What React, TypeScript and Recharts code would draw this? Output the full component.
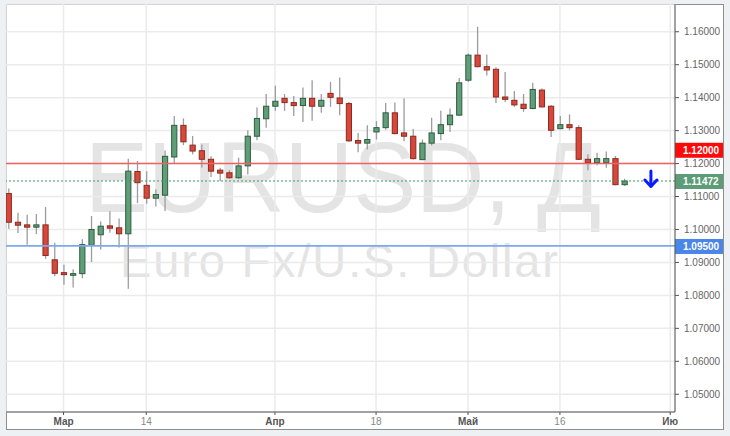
// @ts-nocheck

import React from "react";
import {
  ComposedChart,
  Bar,
  XAxis,
  YAxis,
  CartesianGrid,
  ReferenceLine,
  ReferenceDot,
} from "recharts";

// EURUSD daily candles, Feb 22 .. May 25 (trading days only)
const opens = [
  1.1109, 1.1022, 1.1014, 1.1007, 1.1014, 1.0908, 1.0869, 1.0861, 1.0866, 1.0952,
  1.0984, 1.1011, 1.1005, 1.0987, 1.1176, 1.1134, 1.1095, 1.1104, 1.122, 1.1316,
  1.1256, 1.1239, 1.1213, 1.118, 1.1172, 1.1157, 1.1193, 1.1283, 1.1336, 1.1374,
  1.1398, 1.1385, 1.1376, 1.1398, 1.1374, 1.1413, 1.1399, 1.1382, 1.127, 1.1262,
  1.1296, 1.1309, 1.1354, 1.1293, 1.1283, 1.1212, 1.1262, 1.1291, 1.1318, 1.1347,
  1.1453, 1.1529, 1.1494, 1.1486, 1.1402, 1.1392, 1.138, 1.1367, 1.1423, 1.1374,
  1.1306, 1.1318, 1.1309, 1.1213, 1.1203, 1.1203, 1.1215, 1.1136,
];
const highs = [
  1.1124, 1.1051, 1.1045, 1.1047, 1.1068, 1.096, 1.0893, 1.0879, 1.097, 1.1041,
  1.1024, 1.1055, 1.1033, 1.1215, 1.1208, 1.1177, 1.1122, 1.124, 1.1344, 1.1337,
  1.1284, 1.1258, 1.1222, 1.1187, 1.118, 1.1218, 1.1301, 1.137, 1.1411, 1.1436,
  1.1411, 1.1405, 1.1431, 1.1453, 1.1411, 1.1448, 1.1461, 1.1387, 1.1293, 1.1316,
  1.1329, 1.1384, 1.1385, 1.1398, 1.1305, 1.1273, 1.1339, 1.136, 1.1367, 1.146,
  1.1534, 1.1615, 1.1531, 1.1492, 1.1478, 1.142, 1.1411, 1.1445, 1.1428, 1.1377,
  1.1344, 1.1349, 1.1316, 1.1228, 1.1233, 1.1237, 1.1223, 1.1154,
];
const lows = [
  1.1002, 1.0989, 1.0954, 1.0986, 1.0911, 1.0858, 1.0832, 1.0824, 1.0852, 1.0901,
  1.0939, 1.099, 1.0945, 1.082, 1.108, 1.1078, 1.107, 1.1056, 1.1202, 1.1256,
  1.1228, 1.1188, 1.1159, 1.1147, 1.1154, 1.1153, 1.1167, 1.1271, 1.1309, 1.136,
  1.136, 1.1344, 1.1326, 1.133, 1.1354, 1.1372, 1.1347, 1.1266, 1.1234, 1.1243,
  1.1273, 1.1303, 1.1288, 1.1268, 1.1212, 1.121, 1.1255, 1.1271, 1.1296, 1.1345,
  1.1448, 1.1492, 1.1467, 1.1384, 1.1387, 1.1372, 1.1357, 1.1365, 1.137, 1.1281,
  1.1304, 1.1301, 1.1211, 1.118, 1.1195, 1.1187, 1.1134, 1.1132,
];
const closes = [
  1.1022, 1.1013, 1.1007, 1.1014, 1.0921, 1.0867, 1.0863, 1.0866, 1.0954, 1.1,
  1.101, 1.1004, 1.0987, 1.1177, 1.1142, 1.1095, 1.1106, 1.1222, 1.1316, 1.1266,
  1.1238, 1.1213, 1.1177, 1.1171, 1.1157, 1.1193, 1.1283, 1.1337, 1.1374, 1.1389,
  1.1385, 1.1376, 1.1398, 1.1374, 1.1392, 1.1401, 1.1382, 1.1269, 1.1262, 1.1273,
  1.1309, 1.1354, 1.1291, 1.1283, 1.1215, 1.1262, 1.1293, 1.1318, 1.1347, 1.1445,
  1.1529, 1.1494, 1.1484, 1.1402, 1.1395, 1.1378, 1.1367, 1.1425, 1.1372, 1.1301,
  1.1318, 1.1309, 1.1213, 1.1203, 1.1215, 1.1215, 1.1136, 1.1147,
];

const xTicks = [6, 15, 29, 40, 50, 60, 72];
const xLabels = ["Мар", "14", "Апр", "18", "Май", "16", "Ию"];
const monthLabels = ["Мар", "Апр", "Май", "Ию"];
const yTicks = [1.05, 1.06, 1.07, 1.08, 1.09, 1.1, 1.11, 1.12, 1.13, 1.14, 1.15, 1.16];

const resistance = 1.12;
const support = 1.095;
const lastPrice = 1.11472;

const data = opens.map((o, i) => ({
  i,
  open: o,
  high: highs[i],
  low: lows[i],
  close: closes[i],
}));

const FONT = "'Liberation Sans', Arial, sans-serif";

const Candle = (props) => {
  const { x, y, width, height, payload } = props;
  const { open, close, high, low } = payload;
  const cx = x + width / 2;
  const k = height / (high - low);
  const yOf = (v) => y + (high - v) * k;
  const up = close >= open;
  const top = yOf(Math.max(open, close));
  const bot = yOf(Math.min(open, close));
  return (
    <g>
      <line x1={cx} x2={cx} y1={y} y2={y + height} stroke="#9c9c9c" strokeWidth={1.3} />
      <rect
        x={cx - 2.6}
        y={top}
        width={5.2}
        height={Math.max(bot - top, 1.5)}
        fill={up ? "#5f9e79" : "#d9473a"}
        stroke={up ? "#2f5d3f" : "#8a2a20"}
        strokeWidth={1}
      />
    </g>
  );
};

const XTick = ({ x, y, payload }) => {
  const label = xLabels[xTicks.indexOf(payload.value)];
  const bold = monthLabels.includes(label);
  return (
    <text
      x={x}
      y={y}
      dy="0.71em"
      textAnchor="middle"
      fontSize={10}
      fontFamily={FONT}
      fontWeight={bold ? "bold" : "normal"}
      fill={bold ? "#555" : "#888"}
    >
      {label}
    </text>
  );
};

const tag = (text, color, dy) => (props) => {
  const { viewBox } = props;
  const x0 = viewBox.x + viewBox.width;
  const yy = viewBox.y + dy;
  return (
    <g>
      <rect x={x0} y={yy - 7.5} width={48} height={15} fill={color} />
      <text
        x={x0 + 8}
        y={yy}
        dominantBaseline="central"
        fontSize={10}
        fontWeight="bold"
        fontFamily={FONT}
        fill="#fff"
      >
        {text}
      </text>
    </g>
  );
};

const Arrow = ({ cx, cy }) => (
  <g stroke="#0a1cff" strokeWidth={3} fill="none" strokeLinecap="round" strokeLinejoin="round">
    <line x1={cx} x2={cx} y1={cy - 10} y2={cy + 5} />
    <polyline points={`${cx - 6},${cy - 1} ${cx},${cy + 5.5} ${cx + 6},${cy - 1}`} />
  </g>
);

export default function App() {
  return (
    <div
      style={{
        position: "absolute",
        left: 0,
        top: 0,
        width: 730,
        height: 436,
        background: "#eef1f4",
        overflow: "hidden",
      }}
    >
      <div
        style={{
          position: "absolute",
          left: 6,
          top: 4,
          width: 716,
          height: 424,
          background: "#fff",
          border: "1px solid #8e8e8e",
        }}
      />
      <svg width={730} height={436} style={{ position: "absolute", left: 0, top: 0 }}>
        <text
          x={85}
          y={212}
          fontSize={100}
          fontFamily={FONT}
          fill="#e4e4e4"
          textLength={516}
          lengthAdjust="spacingAndGlyphs"
        >
          EURUSD, Д
        </text>
        <text
          x={120}
          y={277}
          fontSize={47}
          fontFamily={FONT}
          fill="#e4e4e4"
          textLength={438}
          lengthAdjust="spacing"
        >
          Euro Fx/U.S. Dollar
        </text>
      </svg>
      <div style={{ position: "absolute", left: 0, top: 0 }}>
        <ComposedChart
          width={730}
          height={436}
          data={data}
          margin={{ top: 4, right: 0, bottom: 0, left: 6 }}
        >
          <CartesianGrid stroke="#ebebeb" strokeWidth={1.5} />
          <XAxis
            dataKey="i"
            type="number"
            domain={[-0.26, 72.52]}
            allowDataOverflow
            ticks={xTicks}
            interval={0}
            height={24}
            tickSize={3}
            tickMargin={3}
            tick={<XTick />}
            axisLine={{ stroke: "#555" }}
            tickLine={{ stroke: "#555" }}
          />
          <YAxis
            orientation="right"
            type="number"
            domain={[1.04462, 1.16842]}
            allowDataOverflow
            ticks={yTicks}
            interval={0}
            width={55}
            tickSize={4}
            tickMargin={5}
            tickFormatter={(v) => v.toFixed(5)}
            tick={{ fill: "#666", fontSize: 10, fontFamily: FONT }}
            axisLine={{ stroke: "#555" }}
            tickLine={{ stroke: "#555" }}
          />
          <ReferenceLine
            y={resistance}
            stroke="#f06262"
            strokeWidth={1.6}
            label={tag("1.12000", "#ff0a0a", -13.3)}
          />
          <ReferenceLine
            y={support}
            stroke="#7ea8ec"
            strokeWidth={1.8}
            label={tag("1.09500", "#4a86e8", 0.5)}
          />
          <ReferenceLine
            y={lastPrice}
            stroke="#3d9a5f"
            strokeDasharray="2 2"
            strokeWidth={1}
            label={tag("1.11472", "#5c9c76", 0.5)}
          />
          <Bar
            dataKey={(d) => [d.low, d.high]}
            barSize={6}
            shape={<Candle />}
            isAnimationActive={false}
          />
          <ReferenceDot x={69.9} y={lastPrice} r={0} shape={<Arrow />} />
        </ComposedChart>
      </div>
    </div>
  );
}
